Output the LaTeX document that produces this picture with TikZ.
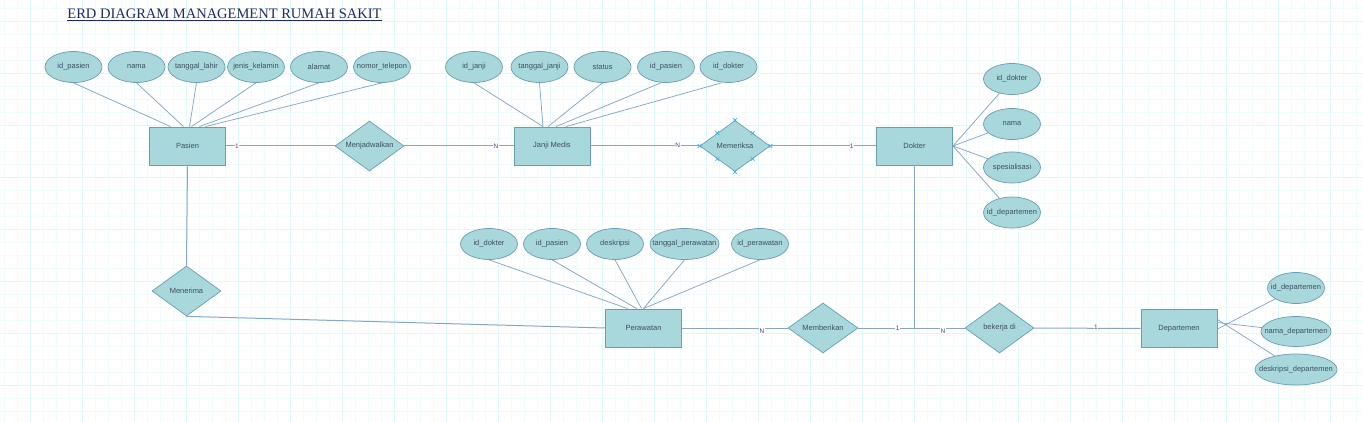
\documentclass[tikz,border=0pt]{standalone}
\usepackage{fontspec}
\setmainfont{Liberation Sans}
\newfontfamily\titlefont{Liberation Serif}
\usetikzlibrary{shapes.geometric}
\definecolor{fillc}{HTML}{A8D8DB}
\definecolor{bordc}{HTML}{6A9CB4}
\definecolor{linec}{HTML}{86A6C2}
\definecolor{txtc}{HTML}{3E4E62}
\definecolor{lblc}{HTML}{4F3F78}
\definecolor{titlec}{HTML}{1F2A5C}
\definecolor{gridmin}{HTML}{F1FCFC}
\definecolor{gridmaj}{HTML}{E0F8F8}
\definecolor{markc}{HTML}{3DB0F0}
\newcommand\attxt[1]{\makebox[0pt]{#1}}
\begin{document}
\begin{tikzpicture}[x=1pt,y=-1pt,
  ent/.style={draw=bordc, fill=fillc, line width=0.9pt, minimum width=76pt, minimum height=38pt, inner sep=0pt, text=txtc, font=\fontsize{7.5}{9}\selectfont},
  attr/.style={ellipse, draw=bordc, fill=fillc, line width=0.7pt, minimum width=57pt, minimum height=31pt, inner sep=0pt, text=txtc, font=\fontsize{7.5}{9}\selectfont},
  rel/.style={diamond, draw=bordc, fill=fillc, line width=0.7pt, minimum width=69pt, minimum height=50pt, inner sep=0pt, text=txtc, font=\fontsize{7.5}{9}\selectfont},
  conn/.style={draw=linec, line width=1pt},
  aline/.style={draw=linec, line width=0.75pt},
  lbl/.style={fill=white, inner sep=0.4pt, text=lblc, font=\fontsize{6.5}{7}\selectfont},
  xmk/.style={draw=markc, line width=0.6pt},
  gmin/.style={draw=gridmin, line width=0.5pt},
  gmaj/.style={draw=gridmaj, line width=0.6pt}
]
\useasboundingbox (0,0) rectangle (1363,422);
\fill[white] (0,0) rectangle (1363,422);
\foreach \gx in {4,17,...,1363} \draw[gmin] (\gx,0) -- (\gx,422);
\foreach \gy in {8,21,...,422} \draw[gmin] (0,\gy) -- (1363,\gy);
\foreach \gx in {30,82,...,1363} \draw[gmaj] (\gx,0) -- (\gx,422);
\foreach \gy in {21,73,...,422} \draw[gmaj] (0,\gy) -- (1363,\gy);

% title
\node[text=titlec, font=\titlefont\fontsize{14.5}{16}\selectfont, inner sep=0pt] (title) at (224.5,15) {\underline{ERD DIAGRAM MANAGEMENT RUMAH SAKIT}};

% entities
\node[ent] (pasien) at (187.5,146) {Pasien};
\node[ent] (janji) at (552,146) {Janji Medis};
\node[ent] (dokter) at (914.5,146) {Dokter};
\node[ent] (perawatan) at (643.5,328) {Perawatan};
\node[ent] (departemen) at (1179,328.5) {Departemen};

% relationships
\node[rel] (menj) at (369.5,146) {\attxt{Menjadwalkan}};
\node[rel, minimum width=70pt, minimum height=51pt] (memeriksa) at (735,146) {\attxt{Memeriksa}};
\node[rel] (menerima) at (186.5,291) {\attxt{Menerima}};
\node[rel, minimum width=70pt] (memberikan) at (823,328) {\attxt{Memberikan}};
\node[rel] (bekerja) at (999.5,328) {\attxt{bekerja di}};

% pasien attributes
\node[attr] (pa1) at (73.5,67) {\attxt{id\_pasien}};
\node[attr] (pa2) at (136.5,67) {\attxt{nama}};
\node[attr] (pa3) at (196.5,67) {\attxt{tanggal\_lahir}};
\node[attr] (pa4) at (256,67) {\attxt{jenis\_kelamin}};
\node[attr] (pa5) at (319,67) {\attxt{alamat}};
\node[attr] (pa6) at (382,67) {\attxt{nomor\_telepon}};

% janji attributes
\node[attr] (ja1) at (474,67) {\attxt{id\_janji}};
\node[attr] (ja2) at (539.5,67) {\attxt{tanggal\_janji}};
\node[attr] (ja3) at (602.5,67) {\attxt{status}};
\node[attr] (ja4) at (666,67) {\attxt{id\_pasien}};
\node[attr] (ja5) at (728.5,67) {\attxt{id\_dokter}};

% dokter attributes
\node[attr] (do1) at (1012,79) {\attxt{id\_dokter}};
\node[attr] (do2) at (1012,124) {\attxt{nama}};
\node[attr] (do3) at (1012,167.5) {\attxt{spesialisasi}};
\node[attr] (do4) at (1012,212.5) {\attxt{id\_departemen}};

% perawatan attributes
\node[attr] (pe1) at (489,244) {\attxt{id\_dokter}};
\node[attr] (pe2) at (552,244) {\attxt{id\_pasien}};
\node[attr] (pe3) at (615,244) {\attxt{deskripsi}};
\node[attr, minimum width=69pt] (pe4) at (684.5,244) {\attxt{tanggal\_perawatan}};
\node[attr] (pe5) at (760,244) {\attxt{id\_perawatan}};

% departemen attributes
\node[attr] (de1) at (1296,288) {\attxt{id\_departemen}};
\node[attr, minimum width=70pt, minimum height=30pt] (de2) at (1296,331.5) {\attxt{nama\_departemen}};
\node[attr, minimum width=82pt] (de3) at (1296,369.5) {\attxt{deskripsi\_departemen}};

% attribute lines
\draw[aline] (pa1.south) -- ([xshift=-17pt]pasien.north);
\draw[aline] (pa2.south) -- ([xshift=-4pt]pasien.north);
\draw[aline] (pa3.south) -- ([xshift=2pt]pasien.north);
\draw[aline] (pa4.south) -- ([xshift=4pt]pasien.north);
\draw[aline] (pa5.south) -- ([xshift=12pt]pasien.north);
\draw[aline] (pa6.south) -- ([xshift=18pt]pasien.north);

\draw[aline] (ja1.south) -- ([xshift=-9pt]janji.north);
\draw[aline] (ja2.south) -- ([xshift=-9pt]janji.north);
\draw[aline] (ja3.south) -- ([xshift=-4pt]janji.north);
\draw[aline] ([xshift=-5pt]ja4.south) -- ([xshift=4pt]janji.north);
\draw[aline] ([xshift=-7pt]ja5.south) -- ([xshift=14pt]janji.north);

\draw[aline] (dokter.east) -- (do1);
\draw[aline] (dokter.east) -- (do2);
\draw[aline] (dokter.east) -- (do3);
\draw[aline] (dokter.east) -- (do4);

\draw[aline] (pe1.south) -- ([xshift=-16pt]perawatan.north);
\draw[aline] (pe2.south) -- ([xshift=-7pt]perawatan.north);
\draw[aline] (pe3.south) -- ([xshift=-2pt]perawatan.north);
\draw[aline] (pe4.south) -- (perawatan.north);
\draw[aline] (pe5.south) -- (perawatan.north);

\draw[aline] ([yshift=-0.5pt]departemen.east) -- (de1);
\draw[aline] ([yshift=6pt]departemen.east) -- (de2);
\draw[aline] ([yshift=9pt]departemen.east) -- (de3);

% relationship connectors
\coordinate (jn) at (dokter.south |- memberikan.east);
\draw[conn] (pasien.east) -- node[lbl, pos=0.1] {1} (menj.west);
\draw[conn] (menj.east) -- node[lbl, pos=0.84] {N} (janji.west);
\draw[conn] (janji.east) -- node[lbl, pos=0.8, yshift=1pt] {N} (memeriksa.west);
\draw[conn] (memeriksa.east) -- node[lbl, pos=0.77] {1} (dokter.west);
\draw[conn] (pasien.south) -- (menerima.north);
\draw[conn] (menerima.south) -- (perawatan.west);
\draw[conn] (perawatan.east) -- node[lbl, pos=0.757, yshift=-3pt] {N} (memberikan.west);
\draw[conn] (memberikan.east) -- node[lbl, pos=0.7] {1} (jn) -- (dokter.south);
\draw[conn] (jn) -- node[lbl, pos=0.57, yshift=-3pt] {N} (bekerja.west);
\draw[conn] (bekerja.east) -- node[lbl, pos=0.58, yshift=1pt] {1} (departemen.west);

% selection marks on Memeriksa
\foreach \a in {north,south,east,west,north east,north west,south east,south west} {
  \draw[xmk] ([shift={(-2,-2)}]memeriksa.\a) -- ([shift={(2,2)}]memeriksa.\a);
  \draw[xmk] ([shift={(-2,2)}]memeriksa.\a) -- ([shift={(2,-2)}]memeriksa.\a);
}
\end{tikzpicture}
\end{document}
